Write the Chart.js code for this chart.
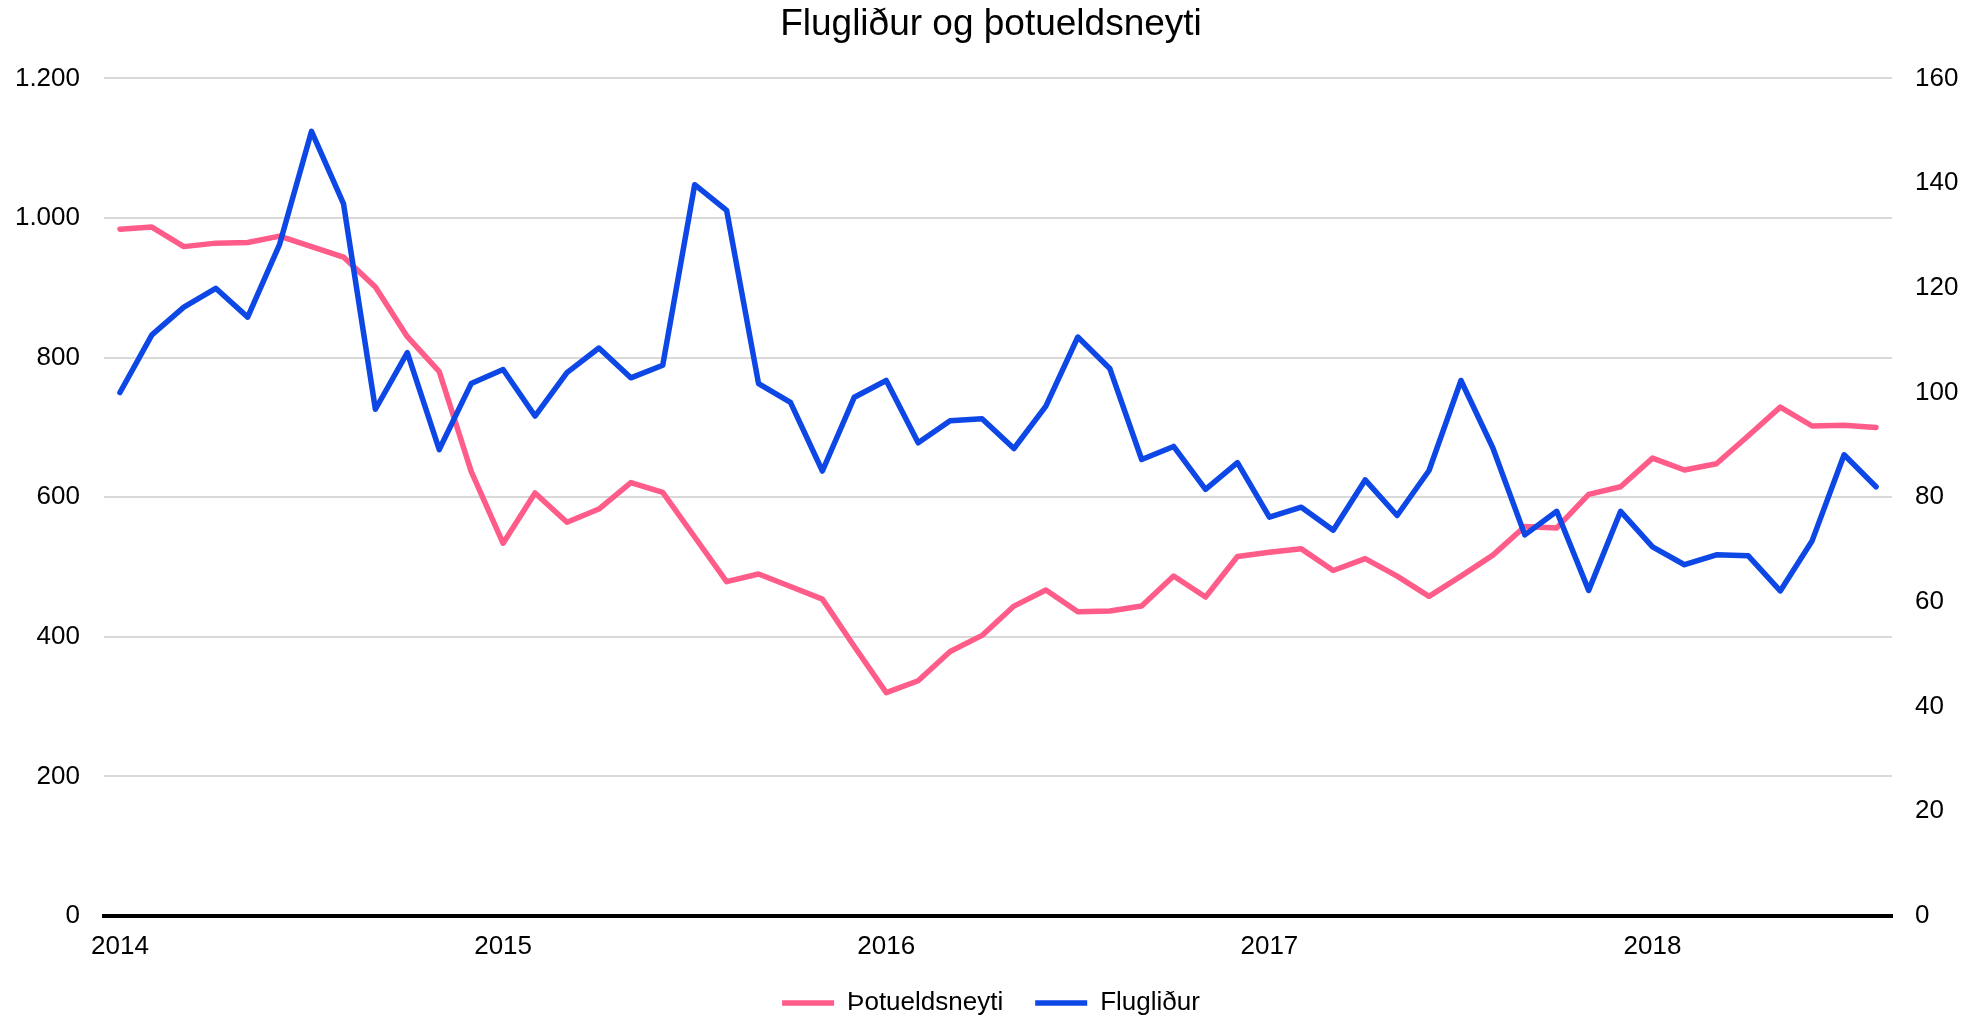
<!DOCTYPE html>
<html>
<head>
<meta charset="utf-8">
<script src="https://cdn.jsdelivr.net/npm/chart.js@4.4.1/dist/chart.umd.min.js"></script>
<style>
  html, body { margin: 0; padding: 0; background: #fff; }
  #wrap { width: 1982px; height: 1018px; position: relative; }
</style>
</head>
<body>
<div id="wrap"><canvas id="chart"></canvas></div>
<script>
// monthly, Jan 2014 - Aug 2018
const years = ['2014', '2015', '2016', '2017', '2018'];
const monthsPerYear = 12;
const monthCount = 56;

// Þotueldsneyti (left axis)
const fuel = [
  984, 987, 959, 964, 965, 974, 959, 944, 901, 830,
  780, 637, 534, 606, 564, 583, 621, 607, 543, 479,
  490, 472, 454, 386, 320, 337, 379, 402, 444, 467,
  436, 437, 444, 487, 457, 515, 521, 526, 495, 512,
  487, 458, 487, 517, 558, 556, 604, 615, 656, 639,
  648, 688, 729, 702, 703, 700
];

// Flugliður (right axis, index)
const crew = [
  100.0, 111.0, 116.3, 119.9, 114.4, 128.3, 149.9, 136.1, 96.8, 107.6,
  89.1, 101.7, 104.4, 95.5, 103.8, 108.5, 102.8, 105.2, 139.7, 134.8,
  101.7, 98.1, 85.0, 99.1, 102.3, 90.4, 94.6, 95.0, 89.3, 97.4,
  110.6, 104.6, 87.2, 89.7, 81.5, 86.6, 76.2, 78.1, 73.7, 83.3,
  76.5, 85.1, 102.3, 89.4, 72.8, 77.3, 62.2, 77.3, 70.5, 67.1,
  69.0, 68.8, 62.1, 71.7, 88.1, 82.0
];

const labels = [];
for (let i = 0; i < monthCount; i++) {
  const y = years[Math.floor(i / monthsPerYear)];
  const m = String(i % monthsPerYear + 1).padStart(2, '0');
  labels.push(y + '-' + m);
}

const FONT = "'Liberation Sans', Arial, sans-serif";
const PINK = '#ff5c8a';
const BLUE = '#0d47e6';

function fmtThousands(v) {
  return String(v).replace(/\B(?=(\d{3})+(?!\d))/g, '.');
}

new Chart(document.getElementById('chart'), {
  type: 'line',
  data: {
    labels,
    datasets: [
      {
        label: 'Flugliður',
        data: crew,
        yAxisID: 'yRight',
        borderColor: BLUE,
        backgroundColor: BLUE,
        borderWidth: 5.5,
        borderCapStyle: 'round',
        borderJoinStyle: 'round',
        pointRadius: 0,
        tension: 0
      },
      {
        label: 'Þotueldsneyti',
        data: fuel,
        yAxisID: 'y',
        borderColor: PINK,
        backgroundColor: PINK,
        borderWidth: 5.5,
        borderCapStyle: 'round',
        borderJoinStyle: 'round',
        pointRadius: 0,
        tension: 0
      }
    ]
  },
  options: {
    responsive: true,
    maintainAspectRatio: false,
    animation: false,
    layout: { padding: { left: 0, right: 0, top: 0, bottom: -8 } },
    scales: {
      x: {
        offset: true,
        afterFit: s => { s.height = 42; },
        grid: { display: false, drawTicks: false },
        border: { display: true, color: '#000', width: 4 },
        ticks: {
          autoSkip: false,
          maxRotation: 0,
          padding: 15,
          color: '#000',
          font: { family: FONT, size: 26 },
          callback: (v, i) => (i % monthsPerYear === 0 ? years[i / monthsPerYear] : '')
        }
      },
      y: {
        position: 'left',
        min: 0,
        max: 1200,
        afterFit: s => { s.width = 104; },
        grid: { color: '#d9d9d9', lineWidth: 2, drawTicks: false },
        border: { display: false },
        ticks: {
          stepSize: 200,
          padding: 24,
          color: '#000',
          font: { family: FONT, size: 26 },
          callback: v => fmtThousands(v)
        }
      },
      yRight: {
        position: 'right',
        min: 0,
        max: 160,
        afterFit: s => { s.width = 90; },
        grid: { display: false, drawTicks: false },
        border: { display: false },
        ticks: {
          stepSize: 20,
          padding: 23,
          color: '#000',
          font: { family: FONT, size: 26 }
        }
      }
    },
    plugins: {
      title: {
        display: true,
        text: 'Flugliður og þotueldsneyti',
        color: '#000',
        font: { family: FONT, size: 37, weight: 'normal' },
        padding: { top: 3, bottom: 31 }
      },
      legend: {
        position: 'bottom',
        reverse: true,
        labels: {
          usePointStyle: true,
          pointStyle: 'line',
          pointStyleWidth: 52,
          color: '#000',
          padding: 32,
          font: { family: FONT, size: 26 }
        }
      },
      tooltip: { enabled: false }
    }
  }
});
</script>
</body>
</html>
